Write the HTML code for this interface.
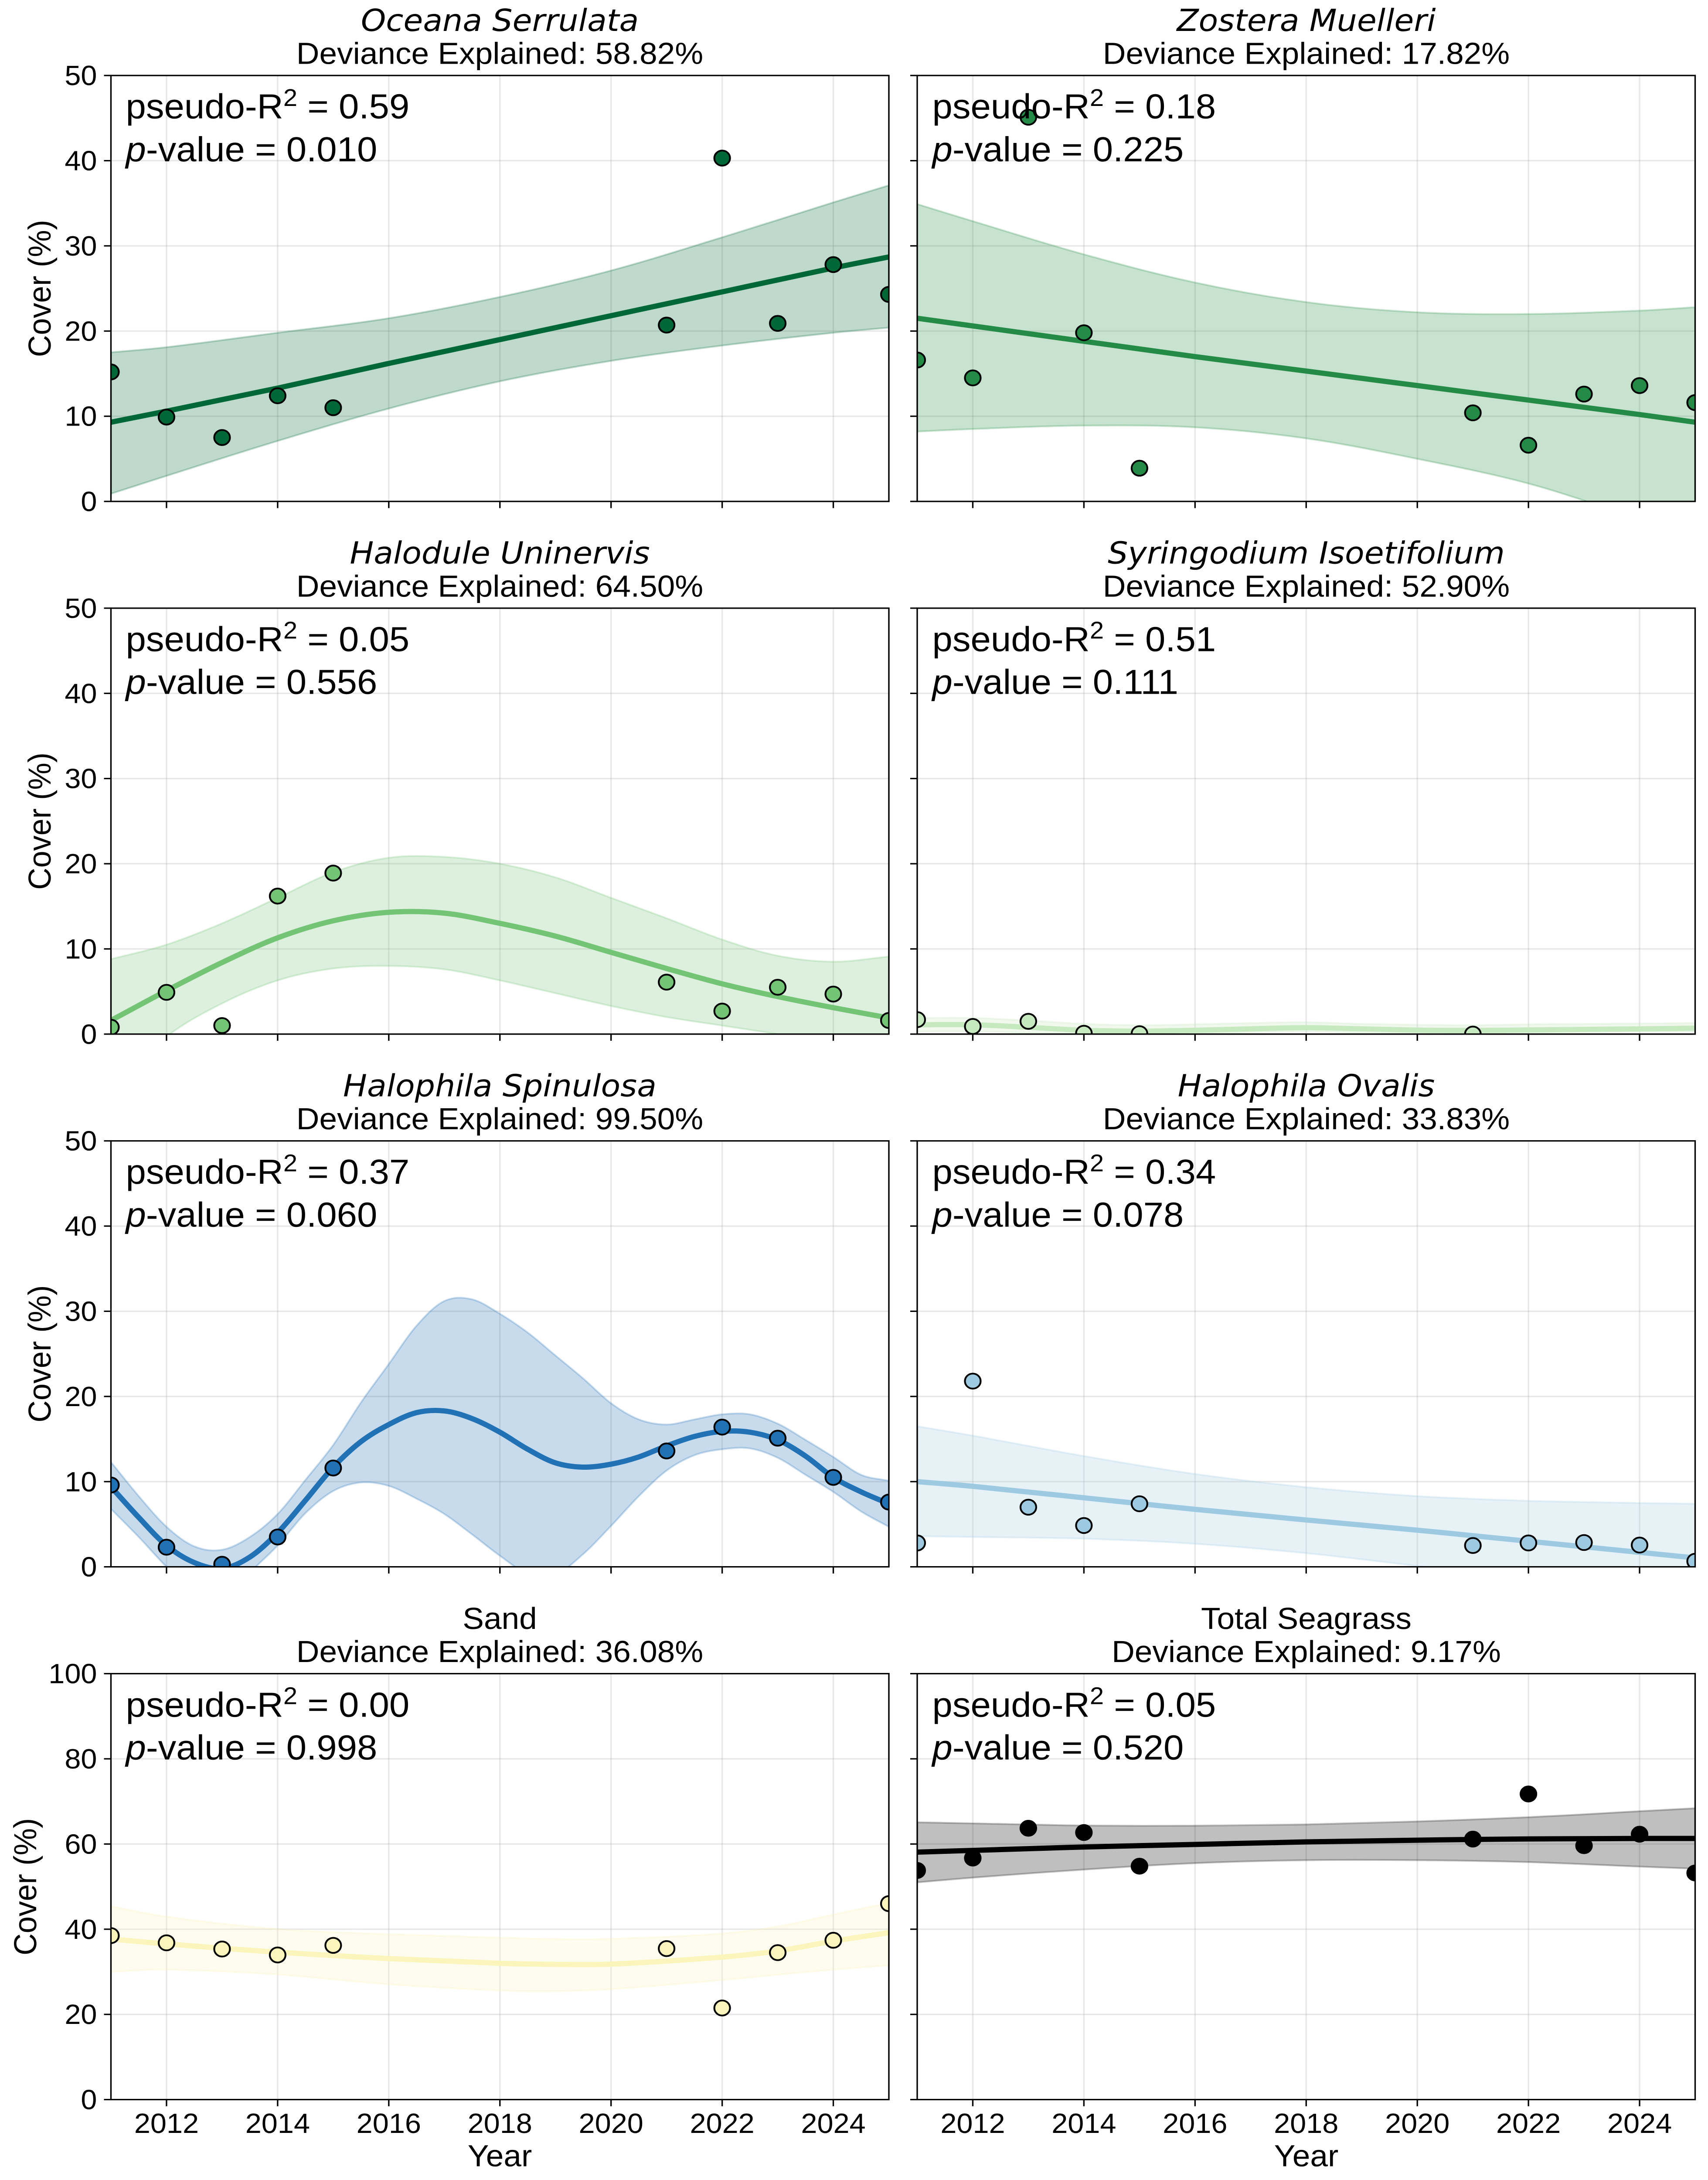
<!DOCTYPE html>
<html lang="en">
<head>
<meta charset="utf-8">
<title>Seagrass cover trends</title>
<style>
html,body{margin:0;padding:0;background:#fff;width:100%;height:100%;overflow:hidden}
svg{display:block;position:fixed;left:0;top:0;width:100vw;height:100vh;overflow:hidden}
text{font-family:"Liberation Sans",Arial,sans-serif;fill:#000;text-rendering:geometricPrecision}
.title-line{font-size:73px;text-anchor:middle}
.species{font-family:"DejaVu Sans",sans-serif;font-style:italic}
.note{font-size:83.33px}
.pi{font-style:italic}
.axis-title{font-size:73px;text-anchor:middle}
.tick{font-size:66.67px}
</style>
</head>
<body>
<svg id="chart" xmlns="http://www.w3.org/2000/svg" viewBox="0 0 3918 5218" preserveAspectRatio="none">
<rect width="3918" height="5218" fill="#fff"/>

<g id="panel-0">
  <g class="plot"></g>
  <text class="title-line species" x="1146.5" y="74">Oceana Serrulata</text>
  <text class="title-line" x="1146.5" y="153">Deviance Explained: 58.82%</text>
  <text class="note" x="288.5" y="283.5">pseudo-R<tspan dy="-30" font-size="58">2</tspan><tspan dy="30"> = 0.59</tspan></text>
  <text class="note" x="288.5" y="386"><tspan class="pi">p</tspan>-value = 0.010</text>
  <text class="axis-title" x="116" y="690.5" transform="rotate(-90 116 690.5)">Cover (%)</text>
</g>

<g id="panel-1">
  <g class="plot"></g>
  <text class="title-line species" x="2996.5" y="74">Zostera Muelleri</text>
  <text class="title-line" x="2996.5" y="153">Deviance Explained: 17.82%</text>
  <text class="note" x="2138.5" y="283.5">pseudo-R<tspan dy="-30" font-size="58">2</tspan><tspan dy="30"> = 0.18</tspan></text>
  <text class="note" x="2138.5" y="386"><tspan class="pi">p</tspan>-value = 0.225</text>
</g>

<g id="panel-2">
  <g class="plot"></g>
  <text class="title-line species" x="1146.5" y="1349">Halodule Uninervis</text>
  <text class="title-line" x="1146.5" y="1428">Deviance Explained: 64.50%</text>
  <text class="note" x="288.5" y="1558.5">pseudo-R<tspan dy="-30" font-size="58">2</tspan><tspan dy="30"> = 0.05</tspan></text>
  <text class="note" x="288.5" y="1661"><tspan class="pi">p</tspan>-value = 0.556</text>
  <text class="axis-title" x="116" y="1965.5" transform="rotate(-90 116 1965.5)">Cover (%)</text>
</g>

<g id="panel-3">
  <g class="plot"></g>
  <text class="title-line species" x="2996.5" y="1349">Syringodium Isoetifolium</text>
  <text class="title-line" x="2996.5" y="1428">Deviance Explained: 52.90%</text>
  <text class="note" x="2138.5" y="1558.5">pseudo-R<tspan dy="-30" font-size="58">2</tspan><tspan dy="30"> = 0.51</tspan></text>
  <text class="note" x="2138.5" y="1661"><tspan class="pi">p</tspan>-value = 0.111</text>
</g>

<g id="panel-4">
  <g class="plot"></g>
  <text class="title-line species" x="1146.5" y="2624">Halophila Spinulosa</text>
  <text class="title-line" x="1146.5" y="2703">Deviance Explained: 99.50%</text>
  <text class="note" x="288.5" y="2833.5">pseudo-R<tspan dy="-30" font-size="58">2</tspan><tspan dy="30"> = 0.37</tspan></text>
  <text class="note" x="288.5" y="2936"><tspan class="pi">p</tspan>-value = 0.060</text>
  <text class="axis-title" x="116" y="3240.5" transform="rotate(-90 116 3240.5)">Cover (%)</text>
</g>

<g id="panel-5">
  <g class="plot"></g>
  <text class="title-line species" x="2996.5" y="2624">Halophila Ovalis</text>
  <text class="title-line" x="2996.5" y="2703">Deviance Explained: 33.83%</text>
  <text class="note" x="2138.5" y="2833.5">pseudo-R<tspan dy="-30" font-size="58">2</tspan><tspan dy="30"> = 0.34</tspan></text>
  <text class="note" x="2138.5" y="2936"><tspan class="pi">p</tspan>-value = 0.078</text>
</g>

<g id="panel-6">
  <g class="plot"></g>
  <text class="title-line" x="1146.5" y="3899">Sand</text>
  <text class="title-line" x="1146.5" y="3978">Deviance Explained: 36.08%</text>
  <text class="note" x="288.5" y="4109">pseudo-R<tspan dy="-30" font-size="58">2</tspan><tspan dy="30"> = 0.00</tspan></text>
  <text class="note" x="288.5" y="4211.5"><tspan class="pi">p</tspan>-value = 0.998</text>
  <text class="axis-title" x="83" y="4516" transform="rotate(-90 83 4516)">Cover (%)</text>
  <text class="axis-title" x="1146.5" y="5185">Year</text>
</g>

<g id="panel-7">
  <g class="plot"></g>
  <text class="title-line" x="2996.5" y="3899">Total Seagrass</text>
  <text class="title-line" x="2996.5" y="3978">Deviance Explained: 9.17%</text>
  <text class="note" x="2138.5" y="4109">pseudo-R<tspan dy="-30" font-size="58">2</tspan><tspan dy="30"> = 0.05</tspan></text>
  <text class="note" x="2138.5" y="4211.5"><tspan class="pi">p</tspan>-value = 0.520</text>
  <text class="axis-title" x="2996.5" y="5185">Year</text>
</g>
</svg>

<script>
// Shared observation years and tick labels
const surveyYears = [2011, 2012, 2013, 2014, 2015, 2021, 2022, 2023, 2024, 2025];
const xTickYears = [2012, 2014, 2016, 2018, 2020, 2022, 2024];
const coverTicks = [0, 10, 20, 30, 40, 50];
const wideCoverTicks = [0, 20, 40, 60, 80, 100];
const biennialFit = [2011, 2012, 2014, 2016, 2018, 2020, 2022, 2024, 2025];
const annualFit = [2011, 2012, 2013, 2014, 2015, 2016, 2017, 2018, 2019, 2020, 2021, 2022, 2023, 2024, 2025];
const halfYearFit = [2011, 2011.5, 2012, 2012.5, 2013, 2013.5, 2014, 2014.5, 2015, 2015.5, 2016, 2016.5, 2017, 2017.5, 2018, 2018.5, 2019, 2019.5, 2020, 2020.5, 2021, 2021.5, 2022, 2022.5, 2023, 2023.5, 2024, 2024.5, 2025];
const sandFit = [2011, 2012, 2014, 2016, 2018, 2019, 2020, 2022, 2023, 2024, 2025];

// Oceana serrulata
const oceanaCover = [15.2, 9.9, 7.5, 12.4, 11.0, 20.7, 40.3, 20.9, 27.8, 24.3];
const oceanaMean = [9.3, 10.6, 13.3, 16.2, 19.0, 21.8, 24.6, 27.4, 28.7];
const oceanaUpper = [17.5, 18.1, 19.8, 21.5, 24.0, 27.1, 31.0, 35.1, 37.1];
const oceanaLower = [0.9, 3.0, 7.1, 10.9, 14.1, 16.5, 18.3, 19.8, 20.4];

// Zostera muelleri
const zosteraCover = [16.6, 14.5, 45.1, 19.8, 3.9, 10.4, 6.6, 12.6, 13.6, 11.6];
const zosteraMean = [21.5, 20.6, 18.8, 17.0, 15.3, 13.6, 11.9, 10.2, 9.3];
const zosteraUpper = [34.9, 32.9, 29.0, 25.7, 23.4, 22.2, 22.0, 22.4, 22.8];
const zosteraLower = [8.2, 8.5, 8.9, 8.7, 7.4, 5.0, 2.1, -2.0, -3.8];

// Halodule uninervis
const haloduleCover = [0.8, 4.9, 1.0, 16.2, 18.9, 6.1, 2.7, 5.5, 4.7, 1.6];
const haloduleMean = [1.6, 5.1, 8.4, 11.3, 13.3, 14.3, 14.2, 13.0, 11.5, 9.6, 7.7, 5.9, 4.4, 3.1, 1.9];
const haloduleUpper = [8.8, 10.5, 13.0, 16.0, 19.0, 20.7, 20.8, 20.0, 18.4, 16.0, 13.6, 11.1, 9.2, 8.5, 9.1];
const haloduleLower = [-6.5, -0.3, 3.6, 6.3, 7.7, 8.0, 7.6, 6.3, 4.8, 3.3, 2.0, 1.0, 0.0, -1.0, -2.5];

// Syringodium isoetifolium (no visible points after 2021)
const syringodiumYears = [2011, 2012, 2013, 2014, 2015, 2021];
const syringodiumCover = [1.7, 0.9, 1.5, 0.1, 0.05, 0.0];
const syringodiumMean = [1.1, 1.1, 0.8, 0.45, 0.35, 0.45, 0.62, 0.75, 0.62, 0.47, 0.43, 0.49, 0.55, 0.62, 0.69];
const syringodiumUpper = [1.9, 1.9, 1.6, 1.2, 1.05, 1.15, 1.3, 1.4, 1.2, 1.1, 1.05, 1.15, 1.2, 1.25, 1.3];
const syringodiumLower = [0.3, 0.3, 0.15, 0.05, 0.0, 0.05, 0.2, 0.28, 0.15, 0.1, 0.05, 0.15, 0.2, 0.25, 0.3];

// Halophila spinulosa
const spinulosaCover = [9.6, 2.3, 0.3, 3.5, 11.6, 13.6, 16.4, 15.1, 10.5, 7.6];
const spinulosaMean = [9.4, 5.8, 2.5, 0.5, -0.2, 1.15, 4.0, 7.8, 11.7, 14.7, 16.7, 18.1, 18.3, 17.4, 15.8, 13.8, 12.2, 11.7, 12.05, 12.9, 14.2, 15.3, 15.9, 15.8, 14.9, 13.0, 10.5, 8.8, 7.4];
const spinulosaUpper = [12.3, 8.3, 4.7, 2.4, 2.0, 3.5, 6.2, 10.2, 14.3, 19.3, 23.8, 28.3, 31.2, 31.4, 29.7, 27.5, 24.8, 22.1, 19.2, 17.3, 16.7, 17.3, 17.9, 17.9, 16.8, 14.9, 12.9, 10.8, 10.1];
const spinulosaLower = [6.8, 3.5, 0.0, -3.0, -4.5, -0.7, 2.5, 6.3, 8.9, 9.9, 9.5, 8.0, 6.2, 3.8, 1.3, -0.8, -0.9, 1.5, 4.8, 8.3, 11.3, 13.1, 13.8, 13.9, 12.8, 10.8, 8.8, 6.5, 4.7];

// Halophila ovalis
const ovalisCover = [2.8, 21.8, 7.0, 4.85, 7.4, 2.5, 2.8, 2.85, 2.55, 0.65];
const ovalisMean = [10.0, 9.45, 8.1, 6.75, 5.5, 4.3, 3.0, 1.7, 1.05];
const ovalisUpper = [16.5, 15.4, 13.0, 10.9, 9.35, 8.3, 7.75, 7.5, 7.4];
const ovalisLower = [3.6, 3.5, 3.3, 2.7, 1.6, 0.1, -1.5, -3.0, -4.0];

// Sand
const sandCover = [38.5, 36.8, 35.35, 33.95, 36.2, 35.45, 21.5, 34.5, 37.4, 46.0];
const sandMean = [37.7, 36.55, 34.6, 33.1, 32.0, 31.75, 31.8, 33.45, 34.9, 37.2, 39.2];
const sandUpper = [45.4, 42.95, 40.05, 38.85, 38.05, 37.7, 37.75, 39.0, 40.65, 43.45, 46.2];
const sandLower = [30.0, 30.5, 29.35, 27.05, 25.6, 25.45, 25.9, 28.05, 29.3, 30.5, 31.5];

// Total seagrass
const totalCover = [53.8, 56.7, 63.7, 62.7, 54.8, 61.15, 71.75, 59.6, 62.3, 53.2];
const totalMean = [58.1, 58.5, 59.3, 59.9, 60.5, 60.9, 61.2, 61.3, 61.3];
const totalUpper = [65.1, 64.85, 64.35, 64.3, 64.6, 65.3, 66.3, 67.7, 68.4];
const totalLower = [51.0, 52.1, 54.0, 55.5, 56.2, 56.2, 55.75, 54.7, 54.2];

const panels = [
  {color:'#006837', py:surveyYears, pv:oceanaCover, fx:biennialFit, mean:oceanaMean, up:oceanaUpper, lo:oceanaLower, ymax:50, ticks:coverTicks},
  {color:'#238b45', py:surveyYears, pv:zosteraCover, fx:biennialFit, mean:zosteraMean, up:zosteraUpper, lo:zosteraLower, ymax:50, ticks:coverTicks},
  {color:'#74c476', py:surveyYears, pv:haloduleCover, fx:annualFit, mean:haloduleMean, up:haloduleUpper, lo:haloduleLower, ymax:50, ticks:coverTicks},
  {color:'#c7e9c0', py:syringodiumYears, pv:syringodiumCover, fx:annualFit, mean:syringodiumMean, up:syringodiumUpper, lo:syringodiumLower, ymax:50, ticks:coverTicks},
  {color:'#2171b5', py:surveyYears, pv:spinulosaCover, fx:halfYearFit, mean:spinulosaMean, up:spinulosaUpper, lo:spinulosaLower, ymax:50, ticks:coverTicks},
  {color:'#9ecae1', py:surveyYears, pv:ovalisCover, fx:biennialFit, mean:ovalisMean, up:ovalisUpper, lo:ovalisLower, ymax:50, ticks:coverTicks},
  {color:'#fbf5bc', py:surveyYears, pv:sandCover, fx:sandFit, mean:sandMean, up:sandUpper, lo:sandLower, ymax:100, ticks:wideCoverTicks},
  {color:'#000000', py:surveyYears, pv:totalCover, fx:biennialFit, mean:totalMean, up:totalUpper, lo:totalLower, ymax:100, ticks:wideCoverTicks}
];

const NS = 'http://www.w3.org/2000/svg';
const columnLeft = [254.5, 2104];
const rowTop = [180.7, 1455.7, 2730.8, 4006];
const plotW = 1784.5, plotH = 1019.5;
const xMin = 2011, xMax = 2025;

function make(tag, attrs, parent) {
  const n = document.createElementNS(NS, tag);
  for (const k in attrs) n.setAttribute(k, attrs[k]);
  parent.appendChild(n);
  return n;
}

// Smooth path through data points using finite-difference cubic Hermite tangents
function smooth(px, py, move) {
  let d = (move ? 'M' : 'L') + px[0].toFixed(1) + ' ' + py[0].toFixed(1);
  const n = px.length;
  const slope = i => {
    const a = Math.max(0, i - 1), b = Math.min(n - 1, i + 1);
    return (py[b] - py[a]) / (px[b] - px[a]);
  };
  for (let i = 0; i < n - 1; i++) {
    const h = (px[i + 1] - px[i]) / 3;
    d += 'C' + (px[i] + h).toFixed(1) + ' ' + (py[i] + slope(i) * h).toFixed(1) + ' ' +
         (px[i + 1] - h).toFixed(1) + ' ' + (py[i + 1] - slope(i + 1) * h).toFixed(1) + ' ' +
         px[i + 1].toFixed(1) + ' ' + py[i + 1].toFixed(1);
  }
  return d;
}

panels.forEach((p, idx) => {
  const col = idx % 2, row = Math.floor(idx / 2);
  const left = columnLeft[col], top = rowTop[row];
  const right = left + plotW, bottom = top + plotH;
  const xAt = v => left + (v - xMin) / (xMax - xMin) * plotW;
  const yAt = v => bottom - v / p.ymax * plotH;
  const plot = document.querySelector('#panel-' + idx + ' .plot');

  const clip = make('clipPath', {id: 'clip-' + idx}, plot);
  make('rect', {x: left, y: top, width: plotW, height: plotH}, clip);

  // grid
  xTickYears.forEach(t => {
    const g = make('line', {x1: xAt(t), x2: xAt(t), y1: top, y2: bottom, stroke: '#b0b0b0', 'stroke-opacity': 0.3, 'stroke-width': 3.33}, plot);
    
    
  });
  p.ticks.forEach(t => {
    const g = make('line', {x1: left, x2: right, y1: yAt(t), y2: yAt(t), stroke: '#b0b0b0', 'stroke-opacity': 0.3, 'stroke-width': 3.33}, plot);
    
    
  });

  const marks = make('g', {'clip-path': 'url(#clip-' + idx + ')'}, plot);
  const fxp = p.fx.map(xAt);

  // confidence band
  const upD = smooth(fxp, p.up.map(yAt), true);
  const loD = smooth(fxp.slice().reverse(), p.lo.slice().reverse().map(yAt), false);
  const band = make('path', {d: upD + loD + 'Z', fill: p.color, 'fill-opacity': 0.25, stroke: p.color, 'stroke-opacity': 0.25, 'stroke-width': 4.17}, marks);
  
  

  // fitted curve
  const fit = make('path', {d: smooth(fxp, p.mean.map(yAt), true), fill: 'none', stroke: p.color, 'stroke-width': 12.5}, marks);
  
  

  // observations
  p.py.forEach((yr, i) => {
    const c = make('circle', {cx: xAt(yr), cy: yAt(p.pv[i]), r: 18, fill: p.color, stroke: '#000', 'stroke-width': 4.17}, marks);
    
    
  });

  // ticks
  xTickYears.forEach(t => {
    const k = make('line', {x1: xAt(t), x2: xAt(t), y1: bottom, y2: bottom + 16, stroke: '#000', 'stroke-width': 3.33}, plot);
    
    
    if (row === 3) {
      const l = make('text', {class: 'tick', x: xAt(t), y: bottom + 80, 'text-anchor': 'middle'}, plot);
      l.textContent = t;
      
      
    }
  });
  p.ticks.forEach(t => {
    const k = make('line', {x1: left - 16, x2: left, y1: yAt(t), y2: yAt(t), stroke: '#000', 'stroke-width': 3.33}, plot);
    
    
    if (col === 0) {
      const l = make('text', {class: 'tick', x: left - 32, y: yAt(t) + 23, 'text-anchor': 'end'}, plot);
      l.textContent = t;
      
      
    }
  });

  // spines
  const frame = make('rect', {x: left, y: top, width: plotW, height: plotH, fill: 'none', stroke: '#000', 'stroke-width': 3.33}, plot);
  
  
});
</script>
</body>
</html>
